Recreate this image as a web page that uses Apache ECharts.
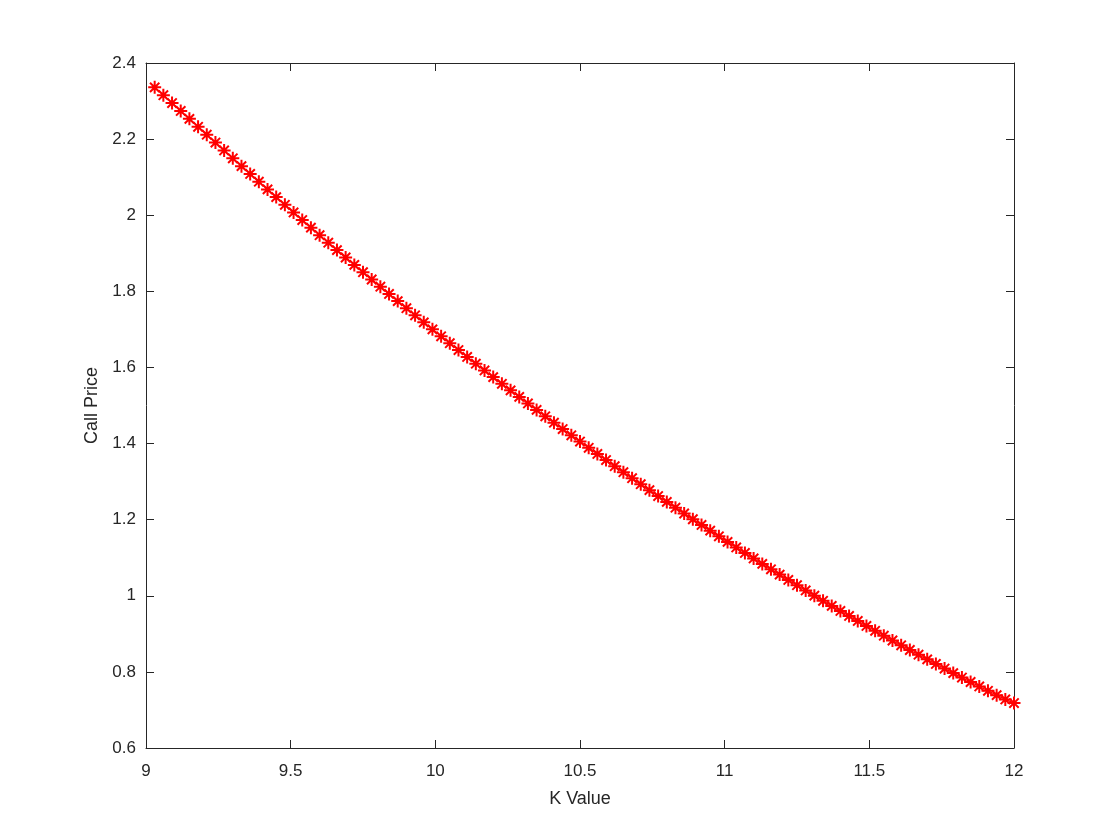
<!DOCTYPE html>
<html>
<head>
<meta charset="utf-8">
<script src="https://cdn.jsdelivr.net/npm/echarts@6/dist/echarts.min.js"></script>
<style>html,body{margin:0;padding:0;background:#fff;}#chart{width:1120px;height:840px;}</style>
</head>
<body>
<div id="chart"></div>
<script>
// K values (strike)
const kValues = [
  9.03, 9.06, 9.09, 9.12, 9.15, 9.18, 9.21, 9.24, 9.27, 9.30, 9.33, 9.36, 9.39, 9.42, 9.45, 9.48,
  9.51, 9.54, 9.57, 9.60, 9.63, 9.66, 9.69, 9.72, 9.75, 9.78, 9.81, 9.84, 9.87, 9.90, 9.93, 9.96, 9.99,
  10.02, 10.05, 10.08, 10.11, 10.14, 10.17, 10.20, 10.23, 10.26, 10.29, 10.32, 10.35, 10.38, 10.41, 10.44, 10.47, 10.50,
  10.53, 10.56, 10.59, 10.62, 10.65, 10.68, 10.71, 10.74, 10.77, 10.80, 10.83, 10.86, 10.89, 10.92, 10.95, 10.98,
  11.01, 11.04, 11.07, 11.10, 11.13, 11.16, 11.19, 11.22, 11.25, 11.28, 11.31, 11.34, 11.37, 11.40, 11.43, 11.46, 11.49,
  11.52, 11.55, 11.58, 11.61, 11.64, 11.67, 11.70, 11.73, 11.76, 11.79, 11.82, 11.85, 11.88, 11.91, 11.94, 11.97, 12.00
];
// Call prices
const callPrices = [
  2.336, 2.3155, 2.2948, 2.2740, 2.2532, 2.2324, 2.2116, 2.1909, 2.1702, 2.1496, 2.1290, 2.1085, 2.0880, 2.0679, 2.0476, 2.0274,
  2.0073, 1.9873, 1.9674, 1.9476, 1.9279, 1.9083, 1.8889, 1.8695, 1.8503, 1.8311, 1.8121, 1.7931, 1.7743, 1.7556, 1.7370, 1.7185, 1.7001,
  1.6818, 1.6637, 1.6456, 1.6277, 1.6099, 1.5922, 1.5746, 1.5571, 1.5398, 1.5226, 1.5055, 1.4885, 1.4716, 1.4548, 1.4382, 1.4217, 1.4053,
  1.3889, 1.3727, 1.3566, 1.3406, 1.3247, 1.3089, 1.2932, 1.2776, 1.2621, 1.2467, 1.2314, 1.2162, 1.2011, 1.1861, 1.1712, 1.1563,
  1.1416, 1.1270, 1.1125, 1.0981, 1.0838, 1.0696, 1.0556, 1.0416, 1.0278, 1.0140, 1.0004, 0.9868, 0.9734, 0.9601, 0.9469, 0.9338, 0.9208,
  0.9079, 0.8952, 0.8825, 0.8699, 0.8575, 0.8451, 0.8329, 0.8208, 0.8088, 0.7968, 0.7850, 0.7734, 0.7618, 0.7503, 0.7389, 0.7277, 0.7180
];
const xTicks = [9, 9.5, 10, 10.5, 11, 11.5, 12];
const yTicks = [0.6, 0.8, 1, 1.2, 1.4, 1.6, 1.8, 2, 2.2, 2.4];
const xLabel = 'K Value';
const yLabel = 'Call Price';

const axisColor = '#262626';
const font = 'Liberation Sans, Arial, Helvetica, sans-serif';
const pts = kValues.map((k, i) => [k, callPrices[i]]);

const baseX = {
  type: 'value', min: 9, max: 12, interval: 0.5,
  axisLine: { show: true, onZero: false, lineStyle: { color: axisColor, width: 1 } },
  axisTick: { show: true, inside: true, length: 8, lineStyle: { color: axisColor } },
  splitLine: { show: false }
};
const baseY = {
  type: 'value', min: 0.6, max: 2.4, interval: 0.2,
  axisLine: { show: true, onZero: false, lineStyle: { color: axisColor, width: 1 } },
  axisTick: { show: true, inside: true, length: 8, lineStyle: { color: axisColor } },
  splitLine: { show: false }
};

const chart = echarts.init(document.getElementById('chart'), null, { renderer: 'canvas' });
chart.setOption({
  backgroundColor: '#ffffff',
  animation: false,
  grid: { left: 146, right: 106, top: 63, bottom: 92, containLabel: false },
  xAxis: [
    Object.assign({}, baseX, {
      position: 'bottom',
      name: xLabel, nameLocation: 'middle', nameGap: 42,
      nameTextStyle: { color: axisColor, fontSize: 18, fontFamily: font },
      axisLabel: { show: true, color: axisColor, fontSize: 17, fontFamily: font, margin: 15,
        formatter: v => String(v) }
    }),
    Object.assign({}, baseX, { position: 'top', axisLabel: { show: false } })
  ],
  yAxis: [
    Object.assign({}, baseY, {
      position: 'left',
      name: yLabel, nameLocation: 'middle', nameGap: 45, nameRotate: 90,
      nameTextStyle: { color: axisColor, fontSize: 18, fontFamily: font },
      axisLabel: { show: true, color: axisColor, fontSize: 17, fontFamily: font, margin: 10,
        formatter: v => String(Math.round(v * 10) / 10) }
    }),
    Object.assign({}, baseY, { position: 'right', axisLabel: { show: false } })
  ],
  series: [{
    type: 'line',
    xAxisIndex: 0, yAxisIndex: 0,
    data: pts,
    symbol: 'path://M0,-5L0,5M-5,0L5,0M-3.6,-3.6L3.6,3.6M-3.6,3.6L3.6,-3.6',
    symbolSize: 13,
    showAllSymbol: true,
    itemStyle: { color: 'transparent', borderColor: '#ff0000', borderWidth: 2 },
    lineStyle: { color: '#ff0000', width: 1.2 }
  }]
});
</script>
</body>
</html>
